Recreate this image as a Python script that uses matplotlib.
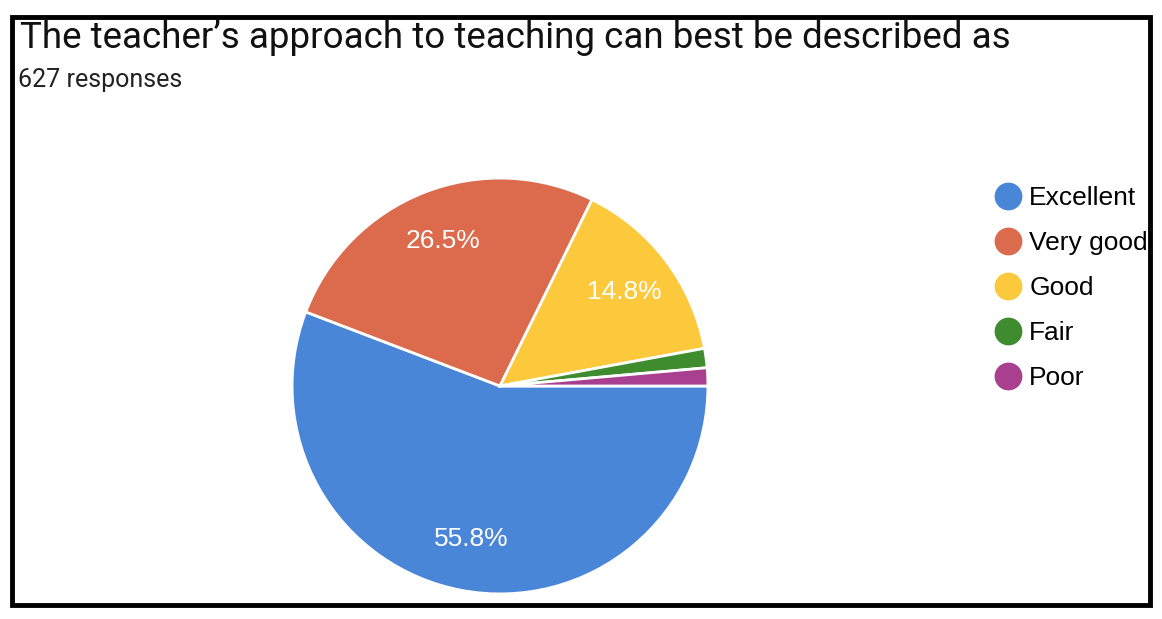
import matplotlib.pyplot as plt
from matplotlib.lines import Line2D
from matplotlib.patches import Rectangle

# dados
categorias = ["Excellent", "Very good", "Good", "Fair", "Poor"]
percentuais = [55.8, 26.5, 14.8, 1.5, 1.4]
cores = ["#4a86d8", "#dc6a4c", "#fcc93c", "#3f8c2f", "#a8408f"]
titulo = "The teacher\u2019s approach to teaching can best be described as"
subtitulo = "627 responses"

fig = plt.figure(figsize=(11.62, 6.19), dpi=100)

# moldura preta da foto
fig.patches.append(Rectangle((12 / 1162, 14 / 619), 1138 / 1162, 588 / 619,
                             transform=fig.transFigure, fill=False,
                             edgecolor="black", linewidth=3.5))

fig.text(20 / 1162, 1 - 38 / 619, titulo, fontsize=26.5, family="Roboto",
         va="center", ha="left", color="#111111")
fig.text(18 / 1162, 1 - 80 / 619, subtitulo, fontsize=18, family="Roboto",
         va="center", ha="left", color="#222222")


def rotulo(p):
    return f"{p:.1f}%" if p > 5 else ""


# pizza
ax = fig.add_axes([290 / 1162, 23 / 619, 420 / 1162, 420 / 619])
wedges, textos, autotextos = ax.pie(
    percentuais, colors=cores, startangle=0, counterclock=False,
    autopct=rotulo, pctdistance=0.75,
    wedgeprops={"edgecolor": "white", "linewidth": 2})
for t in autotextos:
    t.set_color("white")
    t.set_fontsize(19)
    t.set_family("Liberation Sans")
ax.set_xlim(-1.01, 1.01)
ax.set_ylim(-1.01, 1.01)
ax.set_aspect("equal")

# legenda
handles = [Line2D([], [], marker="o", linestyle="", markersize=19,
                  markerfacecolor=c, markeredgecolor=c) for c in cores]
fig.legend(handles, categorias, loc="upper left",
           bbox_to_anchor=(995 / 1162, 1 - 186 / 619), frameon=False,
           prop={"family": "Liberation Sans", "size": 19},
           handletextpad=0.3, labelspacing=0.8, handlelength=1.0,
           borderpad=0, borderaxespad=0)

plt.savefig("out.png", dpi=100)
plt.close()
